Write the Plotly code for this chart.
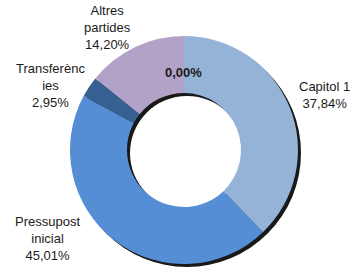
import plotly.graph_objects as go

categories = ["Capitol 1", "Pressupost inicial", "Transferències", "Altres partides"]
label_lines = ["Capitol 1", "Pressupost<br>inicial", "Transferènc<br>ies", "Altres<br>partides"]
values = [37.84, 45.01, 2.95, 14.20]
colors = ["#95B3D7", "#558ED5", "#376092", "#B3A2C7"]
empty_label = "0,00%"

W, H = 352, 267
cx, cy, r = 184, 150, 114  # donut centre/radius in pixels (layout)

def dom(dx=0, dy=0):
    return dict(x=[(cx - r + dx) / W, (cx + r + dx) / W],
                y=[(H - cy - r - dy) / H, (H - cy + r - dy) / H])

fig = go.Figure()
# shadow
fig.add_trace(go.Pie(values=[1], marker=dict(colors=["rgba(0,0,0,0.9)"], line=dict(width=0)),
                     hole=0.5, domain=dom(3, 3), textinfo="none", hoverinfo="skip",
                     showlegend=False, sort=False))
fig.add_trace(go.Pie(labels=categories, values=values, marker=dict(colors=colors, line=dict(width=0)),
                     hole=0.5, domain=dom(), sort=False, direction="clockwise", rotation=0,
                     textinfo="none", showlegend=False))

# label positions (pixels) for each category
label_pos = [(324, 95), (47, 238), (50, 85), (107, 27)]
for lab, v, (x, y) in zip(label_lines, values, label_pos):
    txt = f"{lab}<br>{v:.2f}%".replace(".", ",")
    fig.add_annotation(x=x / W, y=1 - y / H, xref="paper", yref="paper", text=txt,
                       showarrow=False, align="center", xanchor="center", yanchor="middle",
                       font=dict(family="Liberation Sans, Arial", size=13, color="#1a1a1a"))
fig.add_annotation(x=183 / W, y=1 - 72 / H, xref="paper", yref="paper", text=f"<b>{empty_label}</b>",
                   showarrow=False, xanchor="center", yanchor="middle",
                   font=dict(family="Liberation Sans, Arial", size=13, color="#1a1a1a"))

fig.update_layout(width=W, height=H, margin=dict(l=0, r=0, t=0, b=0),
                  paper_bgcolor="white", plot_bgcolor="white")
fig.write_html("out.html", config={"displayModeBar": False},
               post_script="document.body.style.margin='0';document.body.style.overflow='hidden';")
